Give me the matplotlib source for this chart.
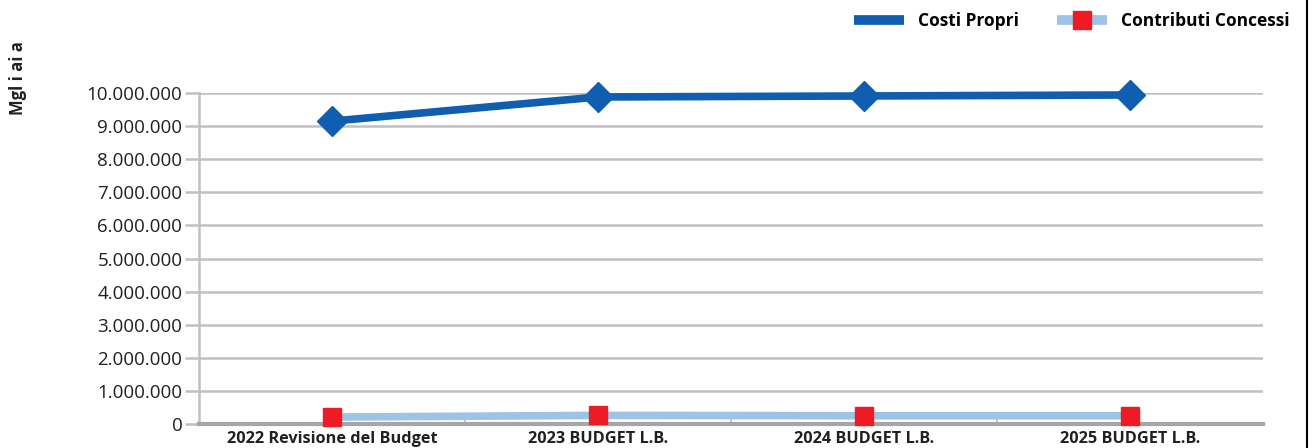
import matplotlib
matplotlib.use("Agg")
from matplotlib import pyplot as plt
from matplotlib.lines import Line2D
import numpy as np

# data
categories = ["2022 Revisione del Budget", "2023 BUDGET L.B.", "2024 BUDGET L.B.", "2025 BUDGET L.B."]
costi_propri = [9150000, 9880000, 9910000, 9940000]
contributi_concessi = [210000, 260000, 250000, 250000]
y_ticks = [0, 1000000, 2000000, 3000000, 4000000, 5000000, 6000000, 7000000, 8000000, 9000000, 10000000]

plt.rcParams['font.family'] = ['Open Sans', 'DejaVu Sans']

fig = plt.figure(figsize=(13.14, 4.48), dpi=100)
ax = fig.add_axes([199 / 1314, 1 - 424 / 448, (1263 - 199) / 1314, (424 - 93) / 448])

x = np.arange(len(categories))
ax.plot(x, costi_propri, color="#105EAF", lw=5.5, solid_capstyle="butt", zorder=4, clip_on=False)
ax.plot(x, costi_propri, ls="none", marker="D", ms=15, color="#105EAF", zorder=5, clip_on=False)
ax.plot(x, contributi_concessi, color="#9DC3E6", lw=5.5, solid_capstyle="butt", zorder=4, clip_on=False)
ax.plot(x, contributi_concessi, ls="none", marker="s", ms=13, color="#ED1C24", zorder=5, clip_on=False)

ax.set_xlim(-0.5, len(categories) - 0.5)
ax.set_ylim(0, 10000000)
ax.set_yticks(y_ticks)
ax.set_yticklabels([f"{v:,}".replace(",", ".") for v in y_ticks], fontsize=13.5, color="#231F20")
ax.yaxis.grid(True, color="#C0C0C4", lw=1.8)
ax.set_axisbelow(True)

ax.set_xticks(x)
ax.set_xticklabels(categories, fontsize=11.7, fontweight="bold", color="#231F20")
ax.set_xticks(np.arange(0.5, len(categories) - 1), minor=True)
ax.tick_params(axis="x", which="major", length=0, pad=5)
ax.tick_params(axis="x", which="minor", direction="in", length=4, color="#BFBFBF", width=1.2)
ax.tick_params(axis="y", length=10, width=1.8, color="#C0C0C4", pad=2)

for s in ["top", "right"]:
    ax.spines[s].set_visible(False)
ax.spines["left"].set_color("#C0C0C4")
ax.spines["left"].set_linewidth(1.8)
ax.spines["bottom"].set_color("#A6A6A6")
ax.spines["bottom"].set_linewidth(3)
ax.spines["bottom"].set_zorder(3)

fig.text(18 / 1314, 1 - 78 / 448, "Mgl i ai a", rotation=90, fontsize=12,
         fontweight="bold", color="#231F20", ha="center", va="center")

handles = [
    Line2D([], [], color="#105EAF", lw=7, solid_capstyle="butt"),
    Line2D([], [], color="#9DC3E6", lw=7, marker="s", ms=13, mfc="#ED1C24",
           mec="#ED1C24", solid_capstyle="butt"),
]
ax.legend(handles, ["Costi Propri", "Contributi Concessi"], loc="upper right",
          bbox_to_anchor=(1302 / 1314, 1.0), bbox_transform=fig.transFigure,
          ncol=2, frameon=False, prop={"weight": "bold", "size": 12.5},
          handlelength=2.9, columnspacing=2.2, handletextpad=0.8, borderaxespad=0.3)

fig.add_artist(Line2D([1307 / 1314, 1307 / 1314], [0, 1], color="black", lw=1.5))

fig.savefig("out.png", dpi=100)
